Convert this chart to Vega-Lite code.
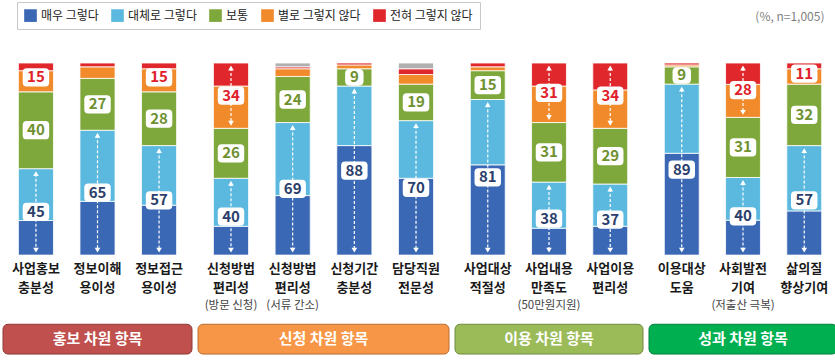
{
  "$schema": "https://vega.github.io/schema/vega-lite/v6.json",
  "padding": {"left": 2, "top": 1, "right": 0, "bottom": 0},
  "background": "white",
  "config": {
    "view": {"stroke": null},
    "font": "Noto Sans CJK KR",
    "concat": {"spacing": 4},
    "legend": {"title": null, "orient": "none", "direction": "horizontal", "legendX": 14, "legendY": -61,
      "symbolType": "square", "symbolSize": 160, "symbolStrokeWidth": 0, "labelFontSize": 12, "labelColor": "#222",
      "labelFont": "Noto Sans CJK KR", "columnPadding": 12, "labelOffset": 4,
      "fillColor": "white", "strokeColor": "#c8c8c8", "padding": 7, "cornerRadius": 0}
  },
  "title": {"text": "(%, n=1,005)", "anchor": "end", "fontSize": 12, "fontWeight": "normal", "color": "#7f7f7f", "offset": -22, "dx": -13, "font": "Noto Sans CJK KR"},
  "datasets": {
    "meta": [
      {"item": "사업홍보 충분성", "iorder": 1, "name": "사업홍보\n충분성", "sub": "", "group": "홍보 차원 항목"},
      {"item": "정보이해 용이성", "iorder": 2, "name": "정보이해\n용이성", "sub": "", "group": "홍보 차원 항목"},
      {"item": "정보접근 용이성", "iorder": 3, "name": "정보접근\n용이성", "sub": "", "group": "홍보 차원 항목"},
      {"item": "신청방법 편리성(방문 신청)", "iorder": 4, "name": "신청방법\n편리성", "sub": "(방문 신청)", "group": "신청 차원 항목"},
      {"item": "신청방법 편리성(서류 간소)", "iorder": 5, "name": "신청방법\n편리성", "sub": "(서류 간소)", "group": "신청 차원 항목"},
      {"item": "신청기간 충분성", "iorder": 6, "name": "신청기간\n충분성", "sub": "", "group": "신청 차원 항목"},
      {"item": "담당직원 전문성", "iorder": 7, "name": "담당직원\n전문성", "sub": "", "group": "신청 차원 항목"},
      {"item": "사업대상 적절성", "iorder": 8, "name": "사업대상\n적절성", "sub": "", "group": "이용 차원 항목"},
      {"item": "사업내용 만족도(50만원지원)", "iorder": 9, "name": "사업내용\n만족도", "sub": "(50만원지원)", "group": "이용 차원 항목"},
      {"item": "사업이용 편리성", "iorder": 10, "name": "사업이용\n편리성", "sub": "", "group": "이용 차원 항목"},
      {"item": "이용대상 도움", "iorder": 11, "name": "이용대상\n도움", "sub": "", "group": "성과 차원 항목"},
      {"item": "사회발전 기여(저출산 극복)", "iorder": 12, "name": "사회발전\n기여", "sub": "(저출산 극복)", "group": "성과 차원 항목"},
      {"item": "삶의질 향상기여", "iorder": 13, "name": "삶의질\n향상기여", "sub": "", "group": "성과 차원 항목"}
    ],
    "cats": [
      {"cat": "매우 그렇다", "corder": 1, "part": "pos"},
      {"cat": "대체로 그렇다", "corder": 2, "part": "pos"},
      {"cat": "보통", "corder": 3, "part": "mid"},
      {"cat": "별로 그렇지 않다", "corder": 4, "part": "neg"},
      {"cat": "전혀 그렇지 않다", "corder": 5, "part": "neg"},
      {"cat": "무응답", "corder": 6, "part": "other"}
    ]
  },
  "data": {"values": [
    {"item": "사업홍보 충분성", "cat": "매우 그렇다", "value": 18},
    {"item": "사업홍보 충분성", "cat": "대체로 그렇다", "value": 27},
    {"item": "사업홍보 충분성", "cat": "보통", "value": 40},
    {"item": "사업홍보 충분성", "cat": "별로 그렇지 않다", "value": 11},
    {"item": "사업홍보 충분성", "cat": "전혀 그렇지 않다", "value": 4},
    {"item": "정보이해 용이성", "cat": "매우 그렇다", "value": 28},
    {"item": "정보이해 용이성", "cat": "대체로 그렇다", "value": 37},
    {"item": "정보이해 용이성", "cat": "보통", "value": 27},
    {"item": "정보이해 용이성", "cat": "별로 그렇지 않다", "value": 6},
    {"item": "정보이해 용이성", "cat": "전혀 그렇지 않다", "value": 2},
    {"item": "정보접근 용이성", "cat": "매우 그렇다", "value": 26},
    {"item": "정보접근 용이성", "cat": "대체로 그렇다", "value": 31},
    {"item": "정보접근 용이성", "cat": "보통", "value": 28},
    {"item": "정보접근 용이성", "cat": "별로 그렇지 않다", "value": 12},
    {"item": "정보접근 용이성", "cat": "전혀 그렇지 않다", "value": 3},
    {"item": "신청방법 편리성(방문 신청)", "cat": "매우 그렇다", "value": 15},
    {"item": "신청방법 편리성(방문 신청)", "cat": "대체로 그렇다", "value": 25},
    {"item": "신청방법 편리성(방문 신청)", "cat": "보통", "value": 26},
    {"item": "신청방법 편리성(방문 신청)", "cat": "별로 그렇지 않다", "value": 22},
    {"item": "신청방법 편리성(방문 신청)", "cat": "전혀 그렇지 않다", "value": 12},
    {"item": "신청방법 편리성(서류 간소)", "cat": "매우 그렇다", "value": 31},
    {"item": "신청방법 편리성(서류 간소)", "cat": "대체로 그렇다", "value": 38},
    {"item": "신청방법 편리성(서류 간소)", "cat": "보통", "value": 24},
    {"item": "신청방법 편리성(서류 간소)", "cat": "별로 그렇지 않다", "value": 4},
    {"item": "신청방법 편리성(서류 간소)", "cat": "전혀 그렇지 않다", "value": 1},
    {"item": "신청방법 편리성(서류 간소)", "cat": "무응답", "value": 2},
    {"item": "신청기간 충분성", "cat": "매우 그렇다", "value": 57},
    {"item": "신청기간 충분성", "cat": "대체로 그렇다", "value": 31},
    {"item": "신청기간 충분성", "cat": "보통", "value": 9},
    {"item": "신청기간 충분성", "cat": "별로 그렇지 않다", "value": 2},
    {"item": "신청기간 충분성", "cat": "전혀 그렇지 않다", "value": 1},
    {"item": "담당직원 전문성", "cat": "매우 그렇다", "value": 40},
    {"item": "담당직원 전문성", "cat": "대체로 그렇다", "value": 30},
    {"item": "담당직원 전문성", "cat": "보통", "value": 19},
    {"item": "담당직원 전문성", "cat": "별로 그렇지 않다", "value": 5},
    {"item": "담당직원 전문성", "cat": "전혀 그렇지 않다", "value": 3},
    {"item": "담당직원 전문성", "cat": "무응답", "value": 3},
    {"item": "사업대상 적절성", "cat": "매우 그렇다", "value": 47},
    {"item": "사업대상 적절성", "cat": "대체로 그렇다", "value": 34},
    {"item": "사업대상 적절성", "cat": "보통", "value": 15},
    {"item": "사업대상 적절성", "cat": "별로 그렇지 않다", "value": 2},
    {"item": "사업대상 적절성", "cat": "전혀 그렇지 않다", "value": 2},
    {"item": "사업내용 만족도(50만원지원)", "cat": "매우 그렇다", "value": 14},
    {"item": "사업내용 만족도(50만원지원)", "cat": "대체로 그렇다", "value": 24},
    {"item": "사업내용 만족도(50만원지원)", "cat": "보통", "value": 31},
    {"item": "사업내용 만족도(50만원지원)", "cat": "별로 그렇지 않다", "value": 19},
    {"item": "사업내용 만족도(50만원지원)", "cat": "전혀 그렇지 않다", "value": 12},
    {"item": "사업이용 편리성", "cat": "매우 그렇다", "value": 15},
    {"item": "사업이용 편리성", "cat": "대체로 그렇다", "value": 22},
    {"item": "사업이용 편리성", "cat": "보통", "value": 29},
    {"item": "사업이용 편리성", "cat": "별로 그렇지 않다", "value": 20},
    {"item": "사업이용 편리성", "cat": "전혀 그렇지 않다", "value": 14},
    {"item": "이용대상 도움", "cat": "매우 그렇다", "value": 53},
    {"item": "이용대상 도움", "cat": "대체로 그렇다", "value": 36},
    {"item": "이용대상 도움", "cat": "보통", "value": 9},
    {"item": "이용대상 도움", "cat": "별로 그렇지 않다", "value": 1},
    {"item": "이용대상 도움", "cat": "전혀 그렇지 않다", "value": 1},
    {"item": "사회발전 기여(저출산 극복)", "cat": "매우 그렇다", "value": 18},
    {"item": "사회발전 기여(저출산 극복)", "cat": "대체로 그렇다", "value": 22},
    {"item": "사회발전 기여(저출산 극복)", "cat": "보통", "value": 31},
    {"item": "사회발전 기여(저출산 극복)", "cat": "별로 그렇지 않다", "value": 17},
    {"item": "사회발전 기여(저출산 극복)", "cat": "전혀 그렇지 않다", "value": 11},
    {"item": "삶의질 향상기여", "cat": "매우 그렇다", "value": 23},
    {"item": "삶의질 향상기여", "cat": "대체로 그렇다", "value": 34},
    {"item": "삶의질 향상기여", "cat": "보통", "value": 32},
    {"item": "삶의질 향상기여", "cat": "별로 그렇지 않다", "value": 8},
    {"item": "삶의질 향상기여", "cat": "전혀 그렇지 않다", "value": 3}
  ]},
  "transform": [
    {"lookup": "item", "from": {"data": {"name": "meta"}, "key": "item", "fields": ["iorder", "name", "sub", "group"]}},
    {"lookup": "cat", "from": {"data": {"name": "cats"}, "key": "cat", "fields": ["corder", "part"]}},
    {"stack": "value", "groupby": ["item"], "sort": [{"field": "corder", "order": "ascending"}], "offset": "normalize", "as": ["y0", "y1"]}
  ],
  "hconcat": [
    {
      "transform": [{"filter": "datum.group === '홍보 차원 항목'"}],
      "width": 189, "height": 292,
      "layer": [
        {"mark": {"type": "bar", "stroke": "white", "strokeWidth": 0.8},
         "encoding": {
          "x": {"field": "item", "type": "nominal", "axis": null, "sort": {"field": "iorder", "op": "min"}, "scale": {"paddingInner": 0.43, "paddingOuter": 0.25}},
          "y": {"field": "y1", "type": "quantitative", "axis": null, "scale": {"domain": [-0.52, 1], "nice": false, "zero": false}},
          "y2": {"field": "y0"},
          "color": {"field": "cat", "type": "nominal",
            "scale": {"domain": ["매우 그렇다", "대체로 그렇다", "보통", "별로 그렇지 않다", "전혀 그렇지 않다", "무응답"], "range": ["#3a68b4", "#5bb9df", "#7fa83c", "#f08a2a", "#e0272b", "#b0b0b0"]},
            "legend": {"values": ["매우 그렇다", "대체로 그렇다", "보통", "별로 그렇지 않다", "전혀 그렇지 않다"]}}}},
        {"transform": [
          {"filter": "datum.part !== 'other'"},
          {"aggregate": [{"op": "min", "field": "y0", "as": "lo"}, {"op": "max", "field": "y1", "as": "hi"}, {"op": "sum", "field": "value", "as": "total"}, {"op": "min", "field": "iorder", "as": "iorder"}], "groupby": ["item", "part"]},
          {"calculate": "(datum.lo + datum.hi) / 2", "as": "mid"}],
         "layer": [
          {"transform": [{"filter": "datum.part === 'pos' || (datum.part === 'neg' && datum.total >= 20)"}],
           "mark": {"type": "rule", "color": "white", "strokeWidth": 1.2, "strokeDash": [3, 2], "yOffset": 5, "y2Offset": -5},
           "encoding": {"x": {"field": "item", "type": "nominal", "sort": {"field": "iorder", "op": "min"}}, "y": {"field": "hi", "type": "quantitative"}, "y2": {"field": "lo"}}},
          {"transform": [{"filter": "datum.part === 'pos' || (datum.part === 'neg' && datum.total >= 20)"}],
           "mark": {"type": "point", "shape": "triangle-up", "filled": true, "color": "white", "opacity": 1, "size": 32, "yOffset": 5},
           "encoding": {"x": {"field": "item", "type": "nominal", "sort": {"field": "iorder", "op": "min"}}, "y": {"field": "hi", "type": "quantitative"}}},
          {"transform": [{"filter": "datum.part === 'pos' || (datum.part === 'neg' && datum.total >= 20)"}],
           "mark": {"type": "point", "shape": "triangle-down", "filled": true, "color": "white", "opacity": 1, "size": 32, "yOffset": -5},
           "encoding": {"x": {"field": "item", "type": "nominal", "sort": {"field": "iorder", "op": "min"}}, "y": {"field": "lo", "type": "quantitative"}}},
          {"transform": [{"filter": "datum.part !== 'neg' || datum.total >= 10"}],
           "mark": {"type": "point", "filled": true, "color": "white", "opacity": 1},
           "encoding": {"x": {"field": "item", "type": "nominal", "sort": {"field": "iorder", "op": "min"}}, "y": {"field": "mid", "type": "quantitative"},
            "shape": {"condition": {"test": "datum.total < 10", "value": "M-0.5,-0.9 L0.5,-0.9 Q1,-0.9 1,-0.4 L1,0.4 Q1,0.9 0.5,0.9 L-0.5,0.9 Q-1,0.9 -1,0.4 L-1,-0.4 Q-1,-0.9 -0.5,-0.9 Z"}, "value": "M-0.7,-0.69 L0.7,-0.69 Q1,-0.69 1,-0.39 L1,0.39 Q1,0.69 0.7,0.69 L-0.7,0.69 Q-1,0.69 -1,0.39 L-1,-0.39 Q-1,-0.69 -0.7,-0.69 Z"},
            "size": {"condition": {"test": "datum.total < 10", "value": 340}, "value": 700}}},
          {"transform": [{"filter": "datum.part !== 'neg' || datum.total >= 10"}],
           "mark": {"type": "text", "fontSize": 15, "fontWeight": "bold", "baseline": "middle"},
           "encoding": {"x": {"field": "item", "type": "nominal", "sort": {"field": "iorder", "op": "min"}}, "y": {"field": "mid", "type": "quantitative"}, "text": {"field": "total", "type": "quantitative"},
            "color": {"condition": [{"test": "datum.part === 'pos'", "value": "#2c3f6c"}, {"test": "datum.part === 'mid'", "value": "#6f9130"}], "value": "#e0202a"}}}
         ]},
        {"transform": [{"filter": "datum.cat === '보통'"}],
         "mark": {"type": "text", "fontSize": 13, "fontWeight": "bold", "color": "#1a1a1a", "baseline": "top", "lineBreak": "\n", "lineHeight": 19},
         "encoding": {"x": {"field": "item", "type": "nominal", "sort": {"field": "iorder", "op": "min"}}, "y": {"datum": -0.04, "type": "quantitative"}, "text": {"field": "name", "type": "nominal"}}},
        {"transform": [{"filter": "datum.cat === '보통' && datum.sub !== ''"}],
         "mark": {"type": "text", "fontSize": 11.5, "color": "#444", "baseline": "middle", "letterSpacing": -0.3},
         "encoding": {"x": {"field": "item", "type": "nominal", "sort": {"field": "iorder", "op": "min"}}, "y": {"datum": -0.265, "type": "quantitative"}, "text": {"field": "sub", "type": "nominal"}}},
        {"transform": [{"filter": "datum.cat === '보통'"}, {"aggregate": [{"op": "count", "as": "n"}], "groupby": ["group"]}],
         "mark": {"type": "rect", "cornerRadius": 5, "strokeWidth": 1},
         "encoding": {"y": {"datum": -0.36, "type": "quantitative"}, "y2": {"datum": -0.515},
          "fill": {"field": "group", "type": "nominal", "legend": null, "scale": {"domain": ["홍보 차원 항목", "신청 차원 항목", "이용 차원 항목", "성과 차원 항목"], "range": ["#c0504d", "#f79646", "#9bbb59", "#00b050"]}},
          "stroke": {"field": "group", "type": "nominal", "legend": null, "scale": {"domain": ["홍보 차원 항목", "신청 차원 항목", "이용 차원 항목", "성과 차원 항목"], "range": ["#8c3a37", "#b86e32", "#718a40", "#00803c"]}}}},
        {"transform": [{"filter": "datum.cat === '보통'"}, {"aggregate": [{"op": "count", "as": "n"}], "groupby": ["group"]}],
         "mark": {"type": "text", "fontSize": 15, "fontWeight": "bold", "color": "white", "baseline": "middle"},
         "encoding": {"y": {"datum": -0.438, "type": "quantitative"}, "text": {"field": "group", "type": "nominal"}}}
      ]
    },
    {
      "transform": [{"filter": "datum.group === '신청 차원 항목'"}],
      "width": 251, "height": 292,
      "layer": [
        {"mark": {"type": "bar", "stroke": "white", "strokeWidth": 0.8},
         "encoding": {
          "x": {"field": "item", "type": "nominal", "axis": null, "sort": {"field": "iorder", "op": "min"}, "scale": {"paddingInner": 0.43, "paddingOuter": 0.25}},
          "y": {"field": "y1", "type": "quantitative", "axis": null, "scale": {"domain": [-0.52, 1], "nice": false, "zero": false}},
          "y2": {"field": "y0"},
          "color": {"field": "cat", "type": "nominal",
            "scale": {"domain": ["매우 그렇다", "대체로 그렇다", "보통", "별로 그렇지 않다", "전혀 그렇지 않다", "무응답"], "range": ["#3a68b4", "#5bb9df", "#7fa83c", "#f08a2a", "#e0272b", "#b0b0b0"]},
            "legend": {"values": ["매우 그렇다", "대체로 그렇다", "보통", "별로 그렇지 않다", "전혀 그렇지 않다"]}}}},
        {"transform": [
          {"filter": "datum.part !== 'other'"},
          {"aggregate": [{"op": "min", "field": "y0", "as": "lo"}, {"op": "max", "field": "y1", "as": "hi"}, {"op": "sum", "field": "value", "as": "total"}, {"op": "min", "field": "iorder", "as": "iorder"}], "groupby": ["item", "part"]},
          {"calculate": "(datum.lo + datum.hi) / 2", "as": "mid"}],
         "layer": [
          {"transform": [{"filter": "datum.part === 'pos' || (datum.part === 'neg' && datum.total >= 20)"}],
           "mark": {"type": "rule", "color": "white", "strokeWidth": 1.2, "strokeDash": [3, 2], "yOffset": 5, "y2Offset": -5},
           "encoding": {"x": {"field": "item", "type": "nominal", "sort": {"field": "iorder", "op": "min"}}, "y": {"field": "hi", "type": "quantitative"}, "y2": {"field": "lo"}}},
          {"transform": [{"filter": "datum.part === 'pos' || (datum.part === 'neg' && datum.total >= 20)"}],
           "mark": {"type": "point", "shape": "triangle-up", "filled": true, "color": "white", "opacity": 1, "size": 32, "yOffset": 5},
           "encoding": {"x": {"field": "item", "type": "nominal", "sort": {"field": "iorder", "op": "min"}}, "y": {"field": "hi", "type": "quantitative"}}},
          {"transform": [{"filter": "datum.part === 'pos' || (datum.part === 'neg' && datum.total >= 20)"}],
           "mark": {"type": "point", "shape": "triangle-down", "filled": true, "color": "white", "opacity": 1, "size": 32, "yOffset": -5},
           "encoding": {"x": {"field": "item", "type": "nominal", "sort": {"field": "iorder", "op": "min"}}, "y": {"field": "lo", "type": "quantitative"}}},
          {"transform": [{"filter": "datum.part !== 'neg' || datum.total >= 10"}],
           "mark": {"type": "point", "filled": true, "color": "white", "opacity": 1},
           "encoding": {"x": {"field": "item", "type": "nominal", "sort": {"field": "iorder", "op": "min"}}, "y": {"field": "mid", "type": "quantitative"},
            "shape": {"condition": {"test": "datum.total < 10", "value": "M-0.5,-0.9 L0.5,-0.9 Q1,-0.9 1,-0.4 L1,0.4 Q1,0.9 0.5,0.9 L-0.5,0.9 Q-1,0.9 -1,0.4 L-1,-0.4 Q-1,-0.9 -0.5,-0.9 Z"}, "value": "M-0.7,-0.69 L0.7,-0.69 Q1,-0.69 1,-0.39 L1,0.39 Q1,0.69 0.7,0.69 L-0.7,0.69 Q-1,0.69 -1,0.39 L-1,-0.39 Q-1,-0.69 -0.7,-0.69 Z"},
            "size": {"condition": {"test": "datum.total < 10", "value": 340}, "value": 700}}},
          {"transform": [{"filter": "datum.part !== 'neg' || datum.total >= 10"}],
           "mark": {"type": "text", "fontSize": 15, "fontWeight": "bold", "baseline": "middle"},
           "encoding": {"x": {"field": "item", "type": "nominal", "sort": {"field": "iorder", "op": "min"}}, "y": {"field": "mid", "type": "quantitative"}, "text": {"field": "total", "type": "quantitative"},
            "color": {"condition": [{"test": "datum.part === 'pos'", "value": "#2c3f6c"}, {"test": "datum.part === 'mid'", "value": "#6f9130"}], "value": "#e0202a"}}}
         ]},
        {"transform": [{"filter": "datum.cat === '보통'"}],
         "mark": {"type": "text", "fontSize": 13, "fontWeight": "bold", "color": "#1a1a1a", "baseline": "top", "lineBreak": "\n", "lineHeight": 19},
         "encoding": {"x": {"field": "item", "type": "nominal", "sort": {"field": "iorder", "op": "min"}}, "y": {"datum": -0.04, "type": "quantitative"}, "text": {"field": "name", "type": "nominal"}}},
        {"transform": [{"filter": "datum.cat === '보통' && datum.sub !== ''"}],
         "mark": {"type": "text", "fontSize": 11.5, "color": "#444", "baseline": "middle", "letterSpacing": -0.3},
         "encoding": {"x": {"field": "item", "type": "nominal", "sort": {"field": "iorder", "op": "min"}}, "y": {"datum": -0.265, "type": "quantitative"}, "text": {"field": "sub", "type": "nominal"}}},
        {"transform": [{"filter": "datum.cat === '보통'"}, {"aggregate": [{"op": "count", "as": "n"}], "groupby": ["group"]}],
         "mark": {"type": "rect", "cornerRadius": 5, "strokeWidth": 1},
         "encoding": {"y": {"datum": -0.36, "type": "quantitative"}, "y2": {"datum": -0.515},
          "fill": {"field": "group", "type": "nominal", "legend": null, "scale": {"domain": ["홍보 차원 항목", "신청 차원 항목", "이용 차원 항목", "성과 차원 항목"], "range": ["#c0504d", "#f79646", "#9bbb59", "#00b050"]}},
          "stroke": {"field": "group", "type": "nominal", "legend": null, "scale": {"domain": ["홍보 차원 항목", "신청 차원 항목", "이용 차원 항목", "성과 차원 항목"], "range": ["#8c3a37", "#b86e32", "#718a40", "#00803c"]}}}},
        {"transform": [{"filter": "datum.cat === '보통'"}, {"aggregate": [{"op": "count", "as": "n"}], "groupby": ["group"]}],
         "mark": {"type": "text", "fontSize": 15, "fontWeight": "bold", "color": "white", "baseline": "middle"},
         "encoding": {"y": {"datum": -0.438, "type": "quantitative"}, "text": {"field": "group", "type": "nominal"}}}
      ]
    },
    {
      "transform": [{"filter": "datum.group === '이용 차원 항목'"}],
      "width": 188, "height": 292,
      "layer": [
        {"mark": {"type": "bar", "stroke": "white", "strokeWidth": 0.8},
         "encoding": {
          "x": {"field": "item", "type": "nominal", "axis": null, "sort": {"field": "iorder", "op": "min"}, "scale": {"paddingInner": 0.43, "paddingOuter": 0.25}},
          "y": {"field": "y1", "type": "quantitative", "axis": null, "scale": {"domain": [-0.52, 1], "nice": false, "zero": false}},
          "y2": {"field": "y0"},
          "color": {"field": "cat", "type": "nominal",
            "scale": {"domain": ["매우 그렇다", "대체로 그렇다", "보통", "별로 그렇지 않다", "전혀 그렇지 않다", "무응답"], "range": ["#3a68b4", "#5bb9df", "#7fa83c", "#f08a2a", "#e0272b", "#b0b0b0"]},
            "legend": {"values": ["매우 그렇다", "대체로 그렇다", "보통", "별로 그렇지 않다", "전혀 그렇지 않다"]}}}},
        {"transform": [
          {"filter": "datum.part !== 'other'"},
          {"aggregate": [{"op": "min", "field": "y0", "as": "lo"}, {"op": "max", "field": "y1", "as": "hi"}, {"op": "sum", "field": "value", "as": "total"}, {"op": "min", "field": "iorder", "as": "iorder"}], "groupby": ["item", "part"]},
          {"calculate": "(datum.lo + datum.hi) / 2", "as": "mid"}],
         "layer": [
          {"transform": [{"filter": "datum.part === 'pos' || (datum.part === 'neg' && datum.total >= 20)"}],
           "mark": {"type": "rule", "color": "white", "strokeWidth": 1.2, "strokeDash": [3, 2], "yOffset": 5, "y2Offset": -5},
           "encoding": {"x": {"field": "item", "type": "nominal", "sort": {"field": "iorder", "op": "min"}}, "y": {"field": "hi", "type": "quantitative"}, "y2": {"field": "lo"}}},
          {"transform": [{"filter": "datum.part === 'pos' || (datum.part === 'neg' && datum.total >= 20)"}],
           "mark": {"type": "point", "shape": "triangle-up", "filled": true, "color": "white", "opacity": 1, "size": 32, "yOffset": 5},
           "encoding": {"x": {"field": "item", "type": "nominal", "sort": {"field": "iorder", "op": "min"}}, "y": {"field": "hi", "type": "quantitative"}}},
          {"transform": [{"filter": "datum.part === 'pos' || (datum.part === 'neg' && datum.total >= 20)"}],
           "mark": {"type": "point", "shape": "triangle-down", "filled": true, "color": "white", "opacity": 1, "size": 32, "yOffset": -5},
           "encoding": {"x": {"field": "item", "type": "nominal", "sort": {"field": "iorder", "op": "min"}}, "y": {"field": "lo", "type": "quantitative"}}},
          {"transform": [{"filter": "datum.part !== 'neg' || datum.total >= 10"}],
           "mark": {"type": "point", "filled": true, "color": "white", "opacity": 1},
           "encoding": {"x": {"field": "item", "type": "nominal", "sort": {"field": "iorder", "op": "min"}}, "y": {"field": "mid", "type": "quantitative"},
            "shape": {"condition": {"test": "datum.total < 10", "value": "M-0.5,-0.9 L0.5,-0.9 Q1,-0.9 1,-0.4 L1,0.4 Q1,0.9 0.5,0.9 L-0.5,0.9 Q-1,0.9 -1,0.4 L-1,-0.4 Q-1,-0.9 -0.5,-0.9 Z"}, "value": "M-0.7,-0.69 L0.7,-0.69 Q1,-0.69 1,-0.39 L1,0.39 Q1,0.69 0.7,0.69 L-0.7,0.69 Q-1,0.69 -1,0.39 L-1,-0.39 Q-1,-0.69 -0.7,-0.69 Z"},
            "size": {"condition": {"test": "datum.total < 10", "value": 340}, "value": 700}}},
          {"transform": [{"filter": "datum.part !== 'neg' || datum.total >= 10"}],
           "mark": {"type": "text", "fontSize": 15, "fontWeight": "bold", "baseline": "middle"},
           "encoding": {"x": {"field": "item", "type": "nominal", "sort": {"field": "iorder", "op": "min"}}, "y": {"field": "mid", "type": "quantitative"}, "text": {"field": "total", "type": "quantitative"},
            "color": {"condition": [{"test": "datum.part === 'pos'", "value": "#2c3f6c"}, {"test": "datum.part === 'mid'", "value": "#6f9130"}], "value": "#e0202a"}}}
         ]},
        {"transform": [{"filter": "datum.cat === '보통'"}],
         "mark": {"type": "text", "fontSize": 13, "fontWeight": "bold", "color": "#1a1a1a", "baseline": "top", "lineBreak": "\n", "lineHeight": 19},
         "encoding": {"x": {"field": "item", "type": "nominal", "sort": {"field": "iorder", "op": "min"}}, "y": {"datum": -0.04, "type": "quantitative"}, "text": {"field": "name", "type": "nominal"}}},
        {"transform": [{"filter": "datum.cat === '보통' && datum.sub !== ''"}],
         "mark": {"type": "text", "fontSize": 11.5, "color": "#444", "baseline": "middle", "letterSpacing": -0.3},
         "encoding": {"x": {"field": "item", "type": "nominal", "sort": {"field": "iorder", "op": "min"}}, "y": {"datum": -0.265, "type": "quantitative"}, "text": {"field": "sub", "type": "nominal"}}},
        {"transform": [{"filter": "datum.cat === '보통'"}, {"aggregate": [{"op": "count", "as": "n"}], "groupby": ["group"]}],
         "mark": {"type": "rect", "cornerRadius": 5, "strokeWidth": 1},
         "encoding": {"y": {"datum": -0.36, "type": "quantitative"}, "y2": {"datum": -0.515},
          "fill": {"field": "group", "type": "nominal", "legend": null, "scale": {"domain": ["홍보 차원 항목", "신청 차원 항목", "이용 차원 항목", "성과 차원 항목"], "range": ["#c0504d", "#f79646", "#9bbb59", "#00b050"]}},
          "stroke": {"field": "group", "type": "nominal", "legend": null, "scale": {"domain": ["홍보 차원 항목", "신청 차원 항목", "이용 차원 항목", "성과 차원 항목"], "range": ["#8c3a37", "#b86e32", "#718a40", "#00803c"]}}}},
        {"transform": [{"filter": "datum.cat === '보통'"}, {"aggregate": [{"op": "count", "as": "n"}], "groupby": ["group"]}],
         "mark": {"type": "text", "fontSize": 15, "fontWeight": "bold", "color": "white", "baseline": "middle"},
         "encoding": {"y": {"datum": -0.438, "type": "quantitative"}, "text": {"field": "group", "type": "nominal"}}}
      ]
    },
    {
      "transform": [{"filter": "datum.group === '성과 차원 항목'"}],
      "width": 188, "height": 292,
      "layer": [
        {"mark": {"type": "bar", "stroke": "white", "strokeWidth": 0.8},
         "encoding": {
          "x": {"field": "item", "type": "nominal", "axis": null, "sort": {"field": "iorder", "op": "min"}, "scale": {"paddingInner": 0.43, "paddingOuter": 0.25}},
          "y": {"field": "y1", "type": "quantitative", "axis": null, "scale": {"domain": [-0.52, 1], "nice": false, "zero": false}},
          "y2": {"field": "y0"},
          "color": {"field": "cat", "type": "nominal",
            "scale": {"domain": ["매우 그렇다", "대체로 그렇다", "보통", "별로 그렇지 않다", "전혀 그렇지 않다", "무응답"], "range": ["#3a68b4", "#5bb9df", "#7fa83c", "#f08a2a", "#e0272b", "#b0b0b0"]},
            "legend": {"values": ["매우 그렇다", "대체로 그렇다", "보통", "별로 그렇지 않다", "전혀 그렇지 않다"]}}}},
        {"transform": [
          {"filter": "datum.part !== 'other'"},
          {"aggregate": [{"op": "min", "field": "y0", "as": "lo"}, {"op": "max", "field": "y1", "as": "hi"}, {"op": "sum", "field": "value", "as": "total"}, {"op": "min", "field": "iorder", "as": "iorder"}], "groupby": ["item", "part"]},
          {"calculate": "(datum.lo + datum.hi) / 2", "as": "mid"}],
         "layer": [
          {"transform": [{"filter": "datum.part === 'pos' || (datum.part === 'neg' && datum.total >= 20)"}],
           "mark": {"type": "rule", "color": "white", "strokeWidth": 1.2, "strokeDash": [3, 2], "yOffset": 5, "y2Offset": -5},
           "encoding": {"x": {"field": "item", "type": "nominal", "sort": {"field": "iorder", "op": "min"}}, "y": {"field": "hi", "type": "quantitative"}, "y2": {"field": "lo"}}},
          {"transform": [{"filter": "datum.part === 'pos' || (datum.part === 'neg' && datum.total >= 20)"}],
           "mark": {"type": "point", "shape": "triangle-up", "filled": true, "color": "white", "opacity": 1, "size": 32, "yOffset": 5},
           "encoding": {"x": {"field": "item", "type": "nominal", "sort": {"field": "iorder", "op": "min"}}, "y": {"field": "hi", "type": "quantitative"}}},
          {"transform": [{"filter": "datum.part === 'pos' || (datum.part === 'neg' && datum.total >= 20)"}],
           "mark": {"type": "point", "shape": "triangle-down", "filled": true, "color": "white", "opacity": 1, "size": 32, "yOffset": -5},
           "encoding": {"x": {"field": "item", "type": "nominal", "sort": {"field": "iorder", "op": "min"}}, "y": {"field": "lo", "type": "quantitative"}}},
          {"transform": [{"filter": "datum.part !== 'neg' || datum.total >= 10"}],
           "mark": {"type": "point", "filled": true, "color": "white", "opacity": 1},
           "encoding": {"x": {"field": "item", "type": "nominal", "sort": {"field": "iorder", "op": "min"}}, "y": {"field": "mid", "type": "quantitative"},
            "shape": {"condition": {"test": "datum.total < 10", "value": "M-0.5,-0.9 L0.5,-0.9 Q1,-0.9 1,-0.4 L1,0.4 Q1,0.9 0.5,0.9 L-0.5,0.9 Q-1,0.9 -1,0.4 L-1,-0.4 Q-1,-0.9 -0.5,-0.9 Z"}, "value": "M-0.7,-0.69 L0.7,-0.69 Q1,-0.69 1,-0.39 L1,0.39 Q1,0.69 0.7,0.69 L-0.7,0.69 Q-1,0.69 -1,0.39 L-1,-0.39 Q-1,-0.69 -0.7,-0.69 Z"},
            "size": {"condition": {"test": "datum.total < 10", "value": 340}, "value": 700}}},
          {"transform": [{"filter": "datum.part !== 'neg' || datum.total >= 10"}],
           "mark": {"type": "text", "fontSize": 15, "fontWeight": "bold", "baseline": "middle"},
           "encoding": {"x": {"field": "item", "type": "nominal", "sort": {"field": "iorder", "op": "min"}}, "y": {"field": "mid", "type": "quantitative"}, "text": {"field": "total", "type": "quantitative"},
            "color": {"condition": [{"test": "datum.part === 'pos'", "value": "#2c3f6c"}, {"test": "datum.part === 'mid'", "value": "#6f9130"}], "value": "#e0202a"}}}
         ]},
        {"transform": [{"filter": "datum.cat === '보통'"}],
         "mark": {"type": "text", "fontSize": 13, "fontWeight": "bold", "color": "#1a1a1a", "baseline": "top", "lineBreak": "\n", "lineHeight": 19},
         "encoding": {"x": {"field": "item", "type": "nominal", "sort": {"field": "iorder", "op": "min"}}, "y": {"datum": -0.04, "type": "quantitative"}, "text": {"field": "name", "type": "nominal"}}},
        {"transform": [{"filter": "datum.cat === '보통' && datum.sub !== ''"}],
         "mark": {"type": "text", "fontSize": 11.5, "color": "#444", "baseline": "middle", "letterSpacing": -0.3},
         "encoding": {"x": {"field": "item", "type": "nominal", "sort": {"field": "iorder", "op": "min"}}, "y": {"datum": -0.265, "type": "quantitative"}, "text": {"field": "sub", "type": "nominal"}}},
        {"transform": [{"filter": "datum.cat === '보통'"}, {"aggregate": [{"op": "count", "as": "n"}], "groupby": ["group"]}],
         "mark": {"type": "rect", "cornerRadius": 5, "strokeWidth": 1},
         "encoding": {"y": {"datum": -0.36, "type": "quantitative"}, "y2": {"datum": -0.515},
          "fill": {"field": "group", "type": "nominal", "legend": null, "scale": {"domain": ["홍보 차원 항목", "신청 차원 항목", "이용 차원 항목", "성과 차원 항목"], "range": ["#c0504d", "#f79646", "#9bbb59", "#00b050"]}},
          "stroke": {"field": "group", "type": "nominal", "legend": null, "scale": {"domain": ["홍보 차원 항목", "신청 차원 항목", "이용 차원 항목", "성과 차원 항목"], "range": ["#8c3a37", "#b86e32", "#718a40", "#00803c"]}}}},
        {"transform": [{"filter": "datum.cat === '보통'"}, {"aggregate": [{"op": "count", "as": "n"}], "groupby": ["group"]}],
         "mark": {"type": "text", "fontSize": 15, "fontWeight": "bold", "color": "white", "baseline": "middle"},
         "encoding": {"y": {"datum": -0.438, "type": "quantitative"}, "text": {"field": "group", "type": "nominal"}}}
      ]
    }
  ]
}
